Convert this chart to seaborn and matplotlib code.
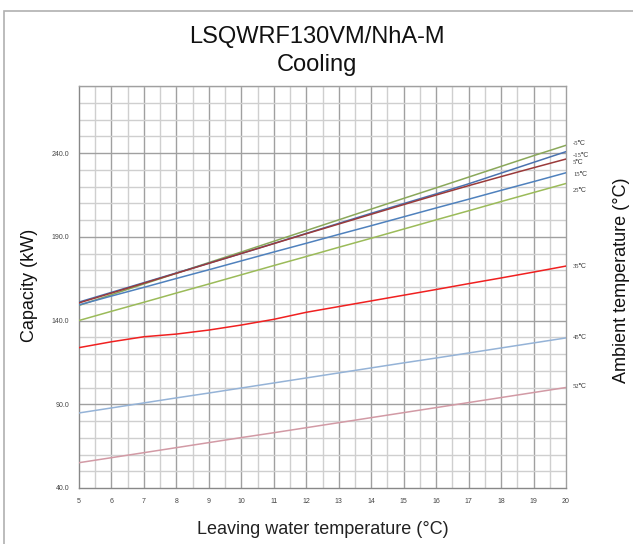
import numpy as np
import pandas as pd
import matplotlib
matplotlib.use("Agg")
import matplotlib.pyplot as plt
import seaborn as sns
from matplotlib.patches import Rectangle

# Temperatura de agua de salida (°C)
water_temp = [5, 6, 7, 8, 9, 10, 11, 12, 13, 14, 15, 16, 17, 18, 19, 20]

# Capacidad (kW) por temperatura ambiente
cap_m15 = [151.0, 156.8, 162.6, 168.4, 174.2, 180.0, 186.0, 192.0,
           198.0, 204.0, 209.8, 215.6, 221.6, 228.0, 234.4, 240.8]
cap_m5 = [149.0, 155.4, 161.8, 168.2, 174.6, 180.9, 187.3, 193.7,
          200.1, 206.5, 212.9, 219.2, 225.6, 232.0, 238.4, 244.6]
cap_5 = [150.5, 156.4, 162.3, 168.2, 174.1, 180.0, 185.9, 191.8,
         197.6, 203.4, 209.2, 214.9, 220.5, 225.9, 231.2, 236.4]
cap_15 = [149.3, 154.6, 159.8, 165.1, 170.3, 175.6, 180.9, 186.1,
          191.4, 196.6, 201.9, 207.2, 212.4, 217.7, 222.9, 228.2]
cap_25 = [140.0, 145.5, 150.9, 156.4, 161.8, 167.3, 172.8, 178.2,
          183.7, 189.1, 194.6, 200.1, 205.5, 211.0, 216.4, 221.8]
cap_35 = [123.8, 127.3, 130.3, 131.9, 134.3, 137.3, 140.7, 144.9,
          148.3, 151.7, 155.1, 158.5, 162.0, 165.4, 168.9, 172.5]
cap_45 = [84.8, 87.8, 90.8, 93.8, 96.7, 99.7, 102.7, 105.7,
          108.7, 111.7, 114.7, 117.6, 120.6, 123.6, 126.6, 129.6]
cap_52 = [55.1, 58.1, 61.1, 64.1, 67.1, 70.1, 73.0, 76.0,
          79.0, 82.0, 85.0, 88.0, 91.0, 94.0, 97.0, 100.0]

series_labels = ["-5℃", "-15℃", "5℃", "15℃", "25℃", "35℃", "45℃", "52℃"]
series_values = [cap_m5, cap_m15, cap_5, cap_15, cap_25, cap_35, cap_45, cap_52]

colors = {
    "-5℃": "#8aa85a",
    "-15℃": "#4a72b0",
    "5℃": "#9a3a3a",
    "15℃": "#4f81bd",
    "25℃": "#9bbb59",
    "35℃": "#f02020",
    "45℃": "#95b3d7",
    "52℃": "#d29aa5",
}
# desplazamiento vertical (pt) de las etiquetas a la derecha
label_offset = {"-5℃": 1.5, "-15℃": -2.5, "5℃": -2.5, "15℃": -1,
                "25℃": -5, "35℃": 0, "45℃": 0, "52℃": 0.5}

rows = []
for lab, vals in zip(series_labels, series_values):
    for x, y in zip(water_temp, vals):
        rows.append({"temp": x, "cap": y, "amb": lab})
df = pd.DataFrame(rows)

sns.set_style("white")
plt.rcParams["font.family"] = ["Liberation Sans", "DejaVu Sans"]

fig = plt.figure(figsize=(6.33, 5.44), dpi=100)
ax = fig.add_axes([79 / 633, 1 - 488 / 544, (566 - 79) / 633, (488 - 86) / 544])

# rejilla
for xv in np.arange(5.5, 20, 0.5):
    major = float(xv).is_integer()
    ax.axvline(xv, color="#a0a0a0" if major else "#cfcfcf", lw=1.0, zorder=0)
for yv in range(50, 281, 10):
    major = (yv - 40) % 50 == 0
    ax.axhline(yv, color="#a0a0a0" if major else "#cfcfcf", lw=1.0, zorder=0)

sns.lineplot(data=df, x="temp", y="cap", hue="amb", palette=colors,
             hue_order=series_labels, linewidth=1.1, legend=False, ax=ax,
             zorder=3)

ax.set_xlim(5, 20)
ax.set_ylim(40, 280)
ax.set_xticks(range(5, 21))
ax.set_yticks([40, 90, 140, 190, 240])
ax.set_yticklabels(["40.0", "90.0", "140.0", "190.0", "240.0"])
ax.tick_params(axis="both", labelsize=5, colors="#555555", length=3,
               width=0.8, pad=4)
ax.tick_params(axis="both", labelcolor="#444444")
for s in ax.spines.values():
    s.set_color("#a0a0a0")
    s.set_linewidth(1.0)
ax.spines["left"].set_color("#888888")
ax.spines["bottom"].set_color("#888888")
ax.set_xlabel("")
ax.set_ylabel("")

for lab, vals in zip(series_labels, series_values):
    ax.annotate(lab, xy=(water_temp[-1], vals[-1]), xytext=(5, label_offset[lab]),
                textcoords="offset points", fontsize=4.8, va="center",
                ha="left", color="#333333",
                family=["Liberation Serif", "DejaVu Serif"],
                annotation_clip=False)

fig.text(0.5, 1 - 37 / 544, "LSQWRF130VM/NhA-M", ha="center", va="center",
         fontsize=17, color="#111111")
fig.text(0.5, 1 - 65 / 544, "Cooling", ha="center", va="center",
         fontsize=17, color="#111111")
fig.text(0.5 * (79 + 566) / 633, 1 - 530 / 544, "Leaving water temperature (°C)",
         ha="center", va="center", fontsize=13, color="#222222")
fig.text(30 / 633, 1 - 285 / 544, "Capacity (kW)", ha="center", va="center",
         rotation=90, fontsize=13, color="#111111")
fig.text(622 / 633, 1 - 280 / 544, "Ambient temperature (°C)", ha="center",
         va="center", rotation=90, fontsize=13, color="#111111")

# marco del grafico
fig.patches.append(Rectangle((4 / 633, -0.05), 1.0, 1 - 11 / 544 + 0.05,
                             transform=fig.transFigure, fill=False,
                             edgecolor="#b0b0b0", lw=1.2))

fig.savefig("out.png", dpi=100)
